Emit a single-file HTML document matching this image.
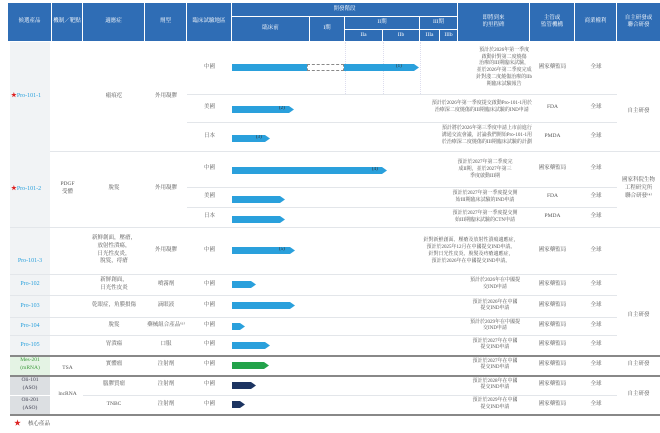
<!DOCTYPE html><html><head><meta charset="utf-8"><style>
*{margin:0;padding:0;box-sizing:border-box}
body{width:660px;height:433px;background:#fff;position:relative;overflow:hidden;font-family:"Liberation Serif","Noto Serif CJK SC","Noto Sans CJK TC",serif;color:#555}
.a{position:absolute}
.h{position:absolute;background:#2f6db5;color:#fff;font-size:5.5px;display:flex;align-items:center;justify-content:center;text-align:center;line-height:1.3;border-right:1px solid #fff;border-bottom:1px solid #fff}
.t{position:absolute;font-size:5.5px;display:flex;align-items:center;justify-content:center;text-align:center;line-height:1.45}
.l{position:absolute;height:1px;background:#e3e6ea}
.d{position:absolute;height:1.5px;background:#888}
.b{position:absolute;height:7px;background:#2aa0dc;clip-path:polygon(0 0,calc(100% - 5px) 0,100% 50%,calc(100% - 5px) 100%,0 100%)}
.n{font-size:5px;color:#333;position:absolute;top:0}
.p{color:#2aa0dc}
</style></head><body>
<!-- header -->
<div class="h" style="left:8px;top:3px;width:44px;height:39px">候選產品</div>
<div class="h" style="left:52px;top:3px;width:31px;height:39px">機制／靶點</div>
<div class="h" style="left:83px;top:3px;width:62px;height:39px">適應症</div>
<div class="h" style="left:145px;top:3px;width:42px;height:39px">劑型</div>
<div class="h" style="left:187px;top:3px;width:45px;height:39px">臨床試驗地區</div>
<div class="h" style="left:232px;top:3px;width:226px;height:14px">開發階段</div>
<div class="h" style="left:232px;top:17px;width:78px;height:25px">臨床前</div>
<div class="h" style="left:310px;top:17px;width:35px;height:25px">I期</div>
<div class="h" style="left:345px;top:17px;width:75px;height:13px">II期</div>
<div class="h" style="left:420px;top:17px;width:38px;height:13px">III期</div>
<div class="h" style="left:345px;top:30px;width:38px;height:12px">IIa</div>
<div class="h" style="left:383px;top:30px;width:37px;height:12px">IIb</div>
<div class="h" style="left:420px;top:30px;width:20px;height:12px">IIIa</div>
<div class="h" style="left:440px;top:30px;width:18px;height:12px">IIIb</div>
<div class="h" style="left:458px;top:3px;width:72px;height:39px">即將到來<br>的里程碑</div>
<div class="h" style="left:530px;top:3px;width:45px;height:39px">主管或<br>監管機構</div>
<div class="h" style="left:575px;top:3px;width:42px;height:39px">商業權利</div>
<div class="h" style="left:617px;top:3px;width:43px;height:39px;border-right:0">自主研發或<br>聯合研發</div>
<!-- left column backgrounds -->
<div class="a" style="left:10px;top:42px;width:40px;height:313px;background:#f1f3f5"></div>
<div class="a" style="left:10px;top:355px;width:40px;height:20px;background:#e4f3e4"></div>
<div class="a" style="left:10px;top:375px;width:40px;height:39px;background:#dcdfe2"></div>
<!-- dotted phase separators -->
<div class="a" style="left:345px;top:42px;height:52px;border-left:1px dotted #dde"></div>
<div class="a" style="left:383px;top:42px;height:52px;border-left:1px dotted #dde"></div>
<div class="a" style="left:420px;top:42px;height:52px;border-left:1px dotted #dde"></div>
<!-- row lines -->
<div class="l" style="left:187px;top:94px;width:430px"></div>
<div class="l" style="left:187px;top:122px;width:430px"></div>
<div class="l" style="left:50px;top:151px;width:610px"></div>
<div class="l" style="left:187px;top:187px;width:430px"></div>
<div class="l" style="left:187px;top:207px;width:430px"></div>
<div class="l" style="left:10px;top:227px;width:650px"></div>
<div class="l" style="left:10px;top:274px;width:607px"></div>
<div class="l" style="left:10px;top:295px;width:607px"></div>
<div class="l" style="left:10px;top:317px;width:607px"></div>
<div class="l" style="left:10px;top:335px;width:607px"></div>
<div class="d" style="left:10px;top:355px;width:650px"></div>
<div class="d" style="left:10px;top:375px;width:650px"></div>
<div class="l" style="left:10px;top:395px;width:40px;background:#fff"></div>
<div class="l" style="left:83px;top:395px;width:534px"></div>
<div class="d" style="left:10px;top:414px;width:650px"></div>
<!-- candidates -->
<div class="t p" style="left:0;top:42px;width:52px;height:109px;font-size:6px"><span style="color:#d22">★</span>Pro-101-1</div>
<div class="t p" style="left:0;top:151px;width:52px;height:76px;font-size:6px"><span style="color:#d22">★</span>Pro-101-2</div>
<div class="t p" style="left:8px;top:227px;width:44px;height:47px;font-size:6px;padding-top:22px">Pro-101-3</div>
<div class="t p" style="left:8px;top:274px;width:44px;height:21px;font-size:6px">Pro-102</div>
<div class="t p" style="left:8px;top:295px;width:44px;height:22px;font-size:6px">Pro-103</div>
<div class="t p" style="left:8px;top:317px;width:44px;height:18px;font-size:6px">Pro-104</div>
<div class="t p" style="left:8px;top:335px;width:44px;height:20px;font-size:6px">Pro-105</div>
<div class="t" style="left:8px;top:355px;width:44px;height:20px;color:#3a9a3a">Mes-201<br>(mRNA)</div>
<div class="t" style="left:8px;top:375px;width:44px;height:20px;color:#445">Oli-101<br>(ASO)</div>
<div class="t" style="left:8px;top:395px;width:44px;height:19px;color:#445">Oli-201<br>(ASO)</div>
<!-- mechanism -->
<div class="t" style="left:52px;top:151px;width:31px;height:76px;justify-content:center;align-items:flex-start;padding-top:30px">PDGF<br>受體</div>
<div class="t" style="left:52px;top:362px;width:31px;height:13px">TSA</div>
<div class="t" style="left:52px;top:375px;width:31px;height:39px">lncRNA</div>
<!-- indications & forms -->
<div class="t" style="left:83px;top:42px;width:62px;height:109px">瘢痕疙</div>
<div class="t" style="left:145px;top:42px;width:42px;height:109px">外用凝膠</div>
<div class="t" style="left:83px;top:151px;width:62px;height:76px">脫髮</div>
<div class="t" style="left:145px;top:151px;width:42px;height:76px">外用凝膠</div>
<div class="t" style="left:83px;top:227px;width:62px;height:47px">新鮮創面，壓瘡，<br>放射性潰瘍，<br>日光性皮炎，<br>脫髮，痔瘡</div>
<div class="t" style="left:145px;top:227px;width:42px;height:47px">外用凝膠</div>
<div class="t" style="left:83px;top:274px;width:62px;height:21px">新鮮創面，<br>日光性皮炎</div>
<div class="t" style="left:145px;top:274px;width:42px;height:21px">噴霧劑</div>
<div class="t" style="left:83px;top:295px;width:62px;height:22px">乾眼症，角膜損傷</div>
<div class="t" style="left:145px;top:295px;width:42px;height:22px">滴眼液</div>
<div class="t" style="left:83px;top:317px;width:62px;height:18px">脫髮</div>
<div class="t" style="left:145px;top:317px;width:42px;height:18px">藥械組合產品⁽⁶⁾</div>
<div class="t" style="left:83px;top:335px;width:62px;height:20px">胃潰瘍</div>
<div class="t" style="left:145px;top:335px;width:42px;height:20px">口服</div>
<div class="t" style="left:83px;top:355px;width:62px;height:20px">實體瘤</div>
<div class="t" style="left:145px;top:355px;width:42px;height:20px">注射劑</div>
<div class="t" style="left:83px;top:375px;width:62px;height:20px">腦膠質瘤</div>
<div class="t" style="left:145px;top:375px;width:42px;height:20px">注射劑</div>
<div class="t" style="left:83px;top:395px;width:62px;height:19px">TNBC</div>
<div class="t" style="left:145px;top:395px;width:42px;height:19px">注射劑</div>
<!-- regions -->
<div class="t" style="left:187px;top:42px;width:45px;height:52px">中國</div>
<div class="t" style="left:187px;top:94px;width:45px;height:28px">美國</div>
<div class="t" style="left:187px;top:122px;width:45px;height:29px">日本</div>
<div class="t" style="left:187px;top:151px;width:45px;height:36px">中國</div>
<div class="t" style="left:187px;top:187px;width:45px;height:20px">美國</div>
<div class="t" style="left:187px;top:207px;width:45px;height:20px">日本</div>
<div class="t" style="left:187px;top:227px;width:45px;height:47px">中國</div>
<div class="t" style="left:187px;top:274px;width:45px;height:21px">中國</div>
<div class="t" style="left:187px;top:295px;width:45px;height:22px">中國</div>
<div class="t" style="left:187px;top:317px;width:45px;height:18px">中國</div>
<div class="t" style="left:187px;top:335px;width:45px;height:20px">中國</div>
<div class="t" style="left:187px;top:355px;width:45px;height:20px">中國</div>
<div class="t" style="left:187px;top:375px;width:45px;height:20px">中國</div>
<div class="t" style="left:187px;top:395px;width:45px;height:19px">中國</div>
<!-- bars -->
<div class="a" style="left:232px;top:64px;width:75px;height:7px;background:#2aa0dc"></div>
<div class="a" style="left:307px;top:64px;width:37px;height:7px;border:1px dashed #888;background:#fff"></div>
<div class="b" style="left:344px;top:64px;width:75px"><span class="n" style="left:52px">(1)</span></div>
<div class="b" style="left:232px;top:106px;width:62px"><span class="n" style="left:47px">(2)</span></div>
<div class="b" style="left:232px;top:135px;width:38px"><span class="n" style="left:24px">(3)</span></div>
<div class="b" style="left:232px;top:167px;width:155px"><span class="n" style="left:140px">(4)</span></div>
<div class="b" style="left:232px;top:196px;width:53px"></div>
<div class="b" style="left:232px;top:216px;width:53px"></div>
<div class="b" style="left:232px;top:247px;width:63px"><span class="n" style="left:47px">(5)</span></div>
<div class="b" style="left:232px;top:281px;width:24px"></div>
<div class="b" style="left:232px;top:302px;width:63px"></div>
<div class="b" style="left:232px;top:323px;width:13px"></div>
<div class="b" style="left:232px;top:342px;width:38px"></div>
<div class="b" style="left:232px;top:362px;width:37px;background:#22a24a"></div>
<div class="b" style="left:232px;top:382px;width:24px;background:#1c3461"></div>
<div class="b" style="left:232px;top:401px;width:13px;background:#1c3461"></div>
<!-- milestones -->
<div class="t" style="left:420px;top:42px;width:112px;height:52px;font-size:5px;line-height:1.35;justify-content:flex-end">預計於2026年第一季度<br>啟動針對第二度燒傷<br>治療的III期臨床試驗，<br>並於2026年第二季度完成<br>針對淺二度燒傷治療的IIb<br>期臨床試驗報告</div>
<div class="t" style="left:420px;top:94px;width:112px;height:28px;font-size:5px;line-height:1.35;justify-content:flex-end">預計於2026年第一季度提交啟動Pro-101-1用於<br>治療深二度燒傷的III期臨床試驗的IND申請</div>
<div class="t" style="left:420px;top:122px;width:112px;height:29px;font-size:5px;line-height:1.35;justify-content:flex-end">預計將於2026年第三季度申請上市前進行<br>溝通交流會議，討論我們開始Pro-101-1用<br>於治療深二度燒傷的III期臨床試驗的計劃</div>
<div class="t" style="left:440px;top:151px;width:90px;height:36px;font-size:5px;line-height:1.4">預計於2027年第二季度完<br>成II期，並於2027年第三<br>季度啟動III期</div>
<div class="t" style="left:440px;top:187px;width:90px;height:20px;font-size:5px;line-height:1.4">預計於2027年第一季度提交開<br>始III期臨床試驗的IND申請</div>
<div class="t" style="left:440px;top:207px;width:90px;height:20px;font-size:5px;line-height:1.4">預計於2027年第一季度提交開<br>始III期臨床試驗的CTN申請</div>
<div class="t" style="left:410px;top:227px;width:122px;height:47px;font-size:5px;line-height:1.4">針對新鮮創面、壓瘡及放射性潰瘍適應症，<br>預計於2025年12月在中國提交IND申請。<br>針對日光性皮炎、脫髮及痔瘡適應症，<br>預計於2026年在中國提交IND申請。</div>
<div class="t" style="left:462px;top:274px;width:66px;height:21px;font-size:5px;line-height:1.3">預計於2026年在中國提<br>交IND申請</div>
<div class="t" style="left:462px;top:295px;width:66px;height:22px;font-size:5px;line-height:1.3">預計於2026年在中國<br>提交IND申請</div>
<div class="t" style="left:462px;top:317px;width:66px;height:18px;font-size:5px;line-height:1.3">預計於2029年在中國提<br>交IND申請</div>
<div class="t" style="left:462px;top:335px;width:66px;height:20px;font-size:5px;line-height:1.3">預計於2027年在中國<br>提交IND申請</div>
<div class="t" style="left:462px;top:355px;width:66px;height:20px;font-size:5px;line-height:1.3">預計於2027年在中國<br>提交IND申請</div>
<div class="t" style="left:462px;top:375px;width:66px;height:20px;font-size:5px;line-height:1.3">預計於2028年在中國<br>提交IND申請</div>
<div class="t" style="left:462px;top:395px;width:66px;height:19px;font-size:5px;line-height:1.3">預計於2029年在中國<br>提交IND申請</div>
<!-- authority / rights -->
<div class="t" style="left:530px;top:42px;width:45px;height:52px">國家藥監局</div>
<div class="t" style="left:575px;top:42px;width:42px;height:52px">全球</div>
<div class="t" style="left:530px;top:94px;width:45px;height:28px">FDA</div>
<div class="t" style="left:575px;top:94px;width:42px;height:28px">全球</div>
<div class="t" style="left:530px;top:122px;width:45px;height:29px">PMDA</div>
<div class="t" style="left:575px;top:122px;width:42px;height:29px">全球</div>
<div class="t" style="left:530px;top:151px;width:45px;height:36px">國家藥監局</div>
<div class="t" style="left:575px;top:151px;width:42px;height:36px">全球</div>
<div class="t" style="left:530px;top:187px;width:45px;height:20px">FDA</div>
<div class="t" style="left:575px;top:187px;width:42px;height:20px">全球</div>
<div class="t" style="left:530px;top:207px;width:45px;height:20px">PMDA</div>
<div class="t" style="left:575px;top:207px;width:42px;height:20px">全球</div>
<div class="t" style="left:530px;top:227px;width:45px;height:47px">國家藥監局</div>
<div class="t" style="left:575px;top:227px;width:42px;height:47px">全球</div>
<div class="t" style="left:530px;top:274px;width:45px;height:21px">國家藥監局</div>
<div class="t" style="left:575px;top:274px;width:42px;height:21px">全球</div>
<div class="t" style="left:530px;top:295px;width:45px;height:22px">國家藥監局</div>
<div class="t" style="left:575px;top:295px;width:42px;height:22px">全球</div>
<div class="t" style="left:530px;top:317px;width:45px;height:18px">國家藥監局</div>
<div class="t" style="left:575px;top:317px;width:42px;height:18px">全球</div>
<div class="t" style="left:530px;top:335px;width:45px;height:20px">國家藥監局</div>
<div class="t" style="left:575px;top:335px;width:42px;height:20px">全球</div>
<div class="t" style="left:530px;top:355px;width:45px;height:20px">國家藥監局</div>
<div class="t" style="left:575px;top:355px;width:42px;height:20px">全球</div>
<div class="t" style="left:530px;top:375px;width:45px;height:20px">國家藥監局</div>
<div class="t" style="left:575px;top:375px;width:42px;height:20px">全球</div>
<div class="t" style="left:530px;top:395px;width:45px;height:19px">國家藥監局</div>
<div class="t" style="left:575px;top:395px;width:42px;height:19px">全球</div>
<!-- R&D -->
<div class="t" style="left:617px;top:42px;width:43px;height:109px;padding-top:30px">自主研發</div>
<div class="t" style="left:617px;top:151px;width:43px;height:76px;line-height:1.4">國家科院生物<br>工程研究所<br>聯合研發⁽⁴⁾</div>
<div class="t" style="left:617px;top:227px;width:43px;height:128px;padding-top:50px">自主研發</div>
<div class="t" style="left:617px;top:355px;width:43px;height:20px">自主研發</div>
<div class="t" style="left:617px;top:375px;width:43px;height:39px">自主研發</div>
<!-- legend -->
<div class="a" style="left:14px;top:418px;font-size:7px;color:#d22">★</div>
<div class="a" style="left:28px;top:419px;font-size:5.5px;color:#444">核心產品</div>
</body></html>
